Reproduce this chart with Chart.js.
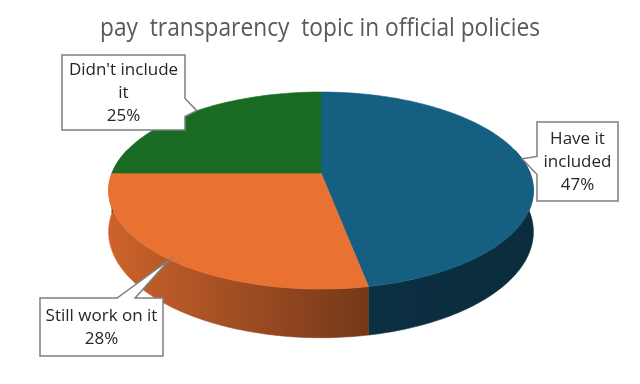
<!DOCTYPE html>
<html>
<head>
<meta charset="utf-8">
<script src="https://cdn.jsdelivr.net/npm/chart.js@4.4.1/dist/chart.umd.min.js"></script>
<style>
  html, body { margin: 0; padding: 0; background: #ffffff; }
  #wrap { width: 640px; height: 384px; }
</style>
</head>
<body>
<div id="wrap"><canvas id="pieCanvas" width="640" height="384"></canvas></div>
<script>
const categories = ['Have it included', 'Still work on it', "Didn't include it"];
const shares = [47, 28, 25];
const sliceColors = ['#156082', '#E97132', '#196B24'];

// tilted view of the pie (perspective: front edge nearer the viewer)
const view = { x: 321, y: 173, a: 209, b: 95.4, k: 0.178, depth: 40 };
// callout boxes [x, y, w, h]; tip = point inside the slice (frac of its sweep), base = where the pointer leaves the box
const callouts = [
    { box: [537, 122, 81, 79], frac: 0.48, r: 1.0, base: 0.55 },
    { box: [40, 298, 123, 58], frac: 0.49, r: 1.0, base: 0.7 },
    { box: [62, 55, 123, 75], frac: 0.53, r: 1.0, base: 0.7 }
];

function shade(hex, k) {
    const n = parseInt(hex.slice(1), 16);
    const r = Math.round(((n >> 16) & 255) * k);
    const g = Math.round(((n >> 8) & 255) * k);
    const b = Math.round((n & 255) * k);
    return `rgb(${r}, ${g}, ${b})`;
}

function project(t, r, drop) {
    const u = r * Math.cos(t);
    const v = r * Math.sin(t);
    const w = 1 - view.k * v;
    return [view.x + view.a * u / w, view.y + (view.b * v + (drop || 0)) / w];
}

function wrapText(ctx, text, maxWidth) {
    const words = text.split(' ');
    const lines = [];
    let line = '';
    words.forEach(w => {
        const test = line ? line + ' ' + w : w;
        if (ctx.measureText(test).width > maxWidth && line) {
            lines.push(line);
            line = w;
        } else {
            line = test;
        }
    });
    if (line) lines.push(line);
    return lines;
}

function drawCallout(ctx, c, tip, lines) {
    const [x, y, w, h] = c.box;
    const half = 9;
    let side;
    if (tip[1] > y && tip[1] < y + h) side = tip[0] < x ? 'left' : 'right';
    else side = tip[1] < y ? 'top' : 'bottom';

    const pts = [[x, y]];
    if (side === 'top') {
        const m = x + w * c.base;
        pts.push([m - half, y], tip, [m + half, y]);
    }
    pts.push([x + w, y]);
    if (side === 'right') {
        const m = y + h * c.base;
        pts.push([x + w, m - half], tip, [x + w, m + half]);
    }
    pts.push([x + w, y + h]);
    if (side === 'bottom') {
        const m = x + w * c.base;
        pts.push([m + half, y + h], tip, [m - half, y + h]);
    }
    pts.push([x, y + h]);
    if (side === 'left') {
        const m = y + h * c.base;
        pts.push([x, m + half], tip, [x, m - half]);
    }

    ctx.beginPath();
    pts.forEach((p, i) => i ? ctx.lineTo(p[0], p[1]) : ctx.moveTo(p[0], p[1]));
    ctx.closePath();
    ctx.fillStyle = '#ffffff';
    ctx.fill();
    ctx.lineWidth = 1.5;
    ctx.lineJoin = 'miter';
    ctx.strokeStyle = '#7f7f7f';
    ctx.stroke();

    ctx.fillStyle = '#262626';
    ctx.textAlign = 'center';
    ctx.textBaseline = 'middle';
    const lh = 23;
    const top = y + h / 2 - (lines.length - 1) * lh / 2 + 1;
    lines.forEach((l, i) => ctx.fillText(l, x + w / 2, top + i * lh));
}

const tiltedPie = {
    id: 'tiltedPie',
    beforeDatasetsDraw(chart) {
        const ctx = chart.ctx;
        const arcs = chart.getDatasetMeta(0).data;
        const left = view.x - view.a * 1.02, right = view.x + view.a * 1.02;

        // side wall: only the part towards the viewer shows
        arcs.forEach((arc, i) => {
            const s = Math.max(arc.startAngle, -0.25);
            const e = Math.min(arc.endAngle, Math.PI + 0.25);
            if (e <= s) return;
            const grad = ctx.createLinearGradient(left, 0, right, 0);
            grad.addColorStop(0, shade(sliceColors[i], 0.88));
            grad.addColorStop(0.6, shade(sliceColors[i], 0.5));
            grad.addColorStop(1, shade(sliceColors[i], 0.46));
            const steps = 90;
            ctx.beginPath();
            for (let k = 0; k <= steps; k++) {
                const p = project(s + (e - s) * k / steps, 1);
                k ? ctx.lineTo(p[0], p[1]) : ctx.moveTo(p[0], p[1]);
            }
            for (let k = steps; k >= 0; k--) {
                const p = project(s + (e - s) * k / steps, 1, view.depth);
                ctx.lineTo(p[0], p[1]);
            }
            ctx.closePath();
            ctx.fillStyle = grad;
            ctx.fill();
            ctx.lineWidth = 0.6;
            ctx.strokeStyle = grad;
            ctx.stroke();
        });

        // top face
        arcs.forEach((arc, i) => {
            const s = arc.startAngle, e = arc.endAngle;
            const steps = Math.max(8, Math.ceil((e - s) * 40));
            ctx.beginPath();
            ctx.moveTo(view.x, view.y);
            for (let k = 0; k <= steps; k++) {
                const p = project(s + (e - s) * k / steps, 1);
                ctx.lineTo(p[0], p[1]);
            }
            ctx.closePath();
            ctx.fillStyle = sliceColors[i];
            ctx.fill();
            ctx.lineWidth = 0.6;
            ctx.strokeStyle = sliceColors[i];
            ctx.stroke();
        });
        return false;
    },
    afterDraw(chart) {
        const ctx = chart.ctx;
        const arcs = chart.getDatasetMeta(0).data;
        const total = shares.reduce((a, b) => a + b, 0);
        ctx.save();
        ctx.font = '17px "Open Sans"';
        arcs.forEach((arc, i) => {
            const c = callouts[i];
            const t = arc.startAngle + (arc.endAngle - arc.startAngle) * c.frac;
            const tip = project(t, c.r);
            const pct = Math.round(shares[i] / total * 100) + '%';
            const lines = wrapText(ctx, categories[i], c.box[2] - 6).concat([pct]);
            drawCallout(ctx, c, tip, lines);
        });
        ctx.restore();
    }
};

new Chart(document.getElementById('pieCanvas'), {
    type: 'pie',
    data: {
        labels: categories,
        datasets: [{
            data: shares,
            backgroundColor: sliceColors,
            borderWidth: 0
        }]
    },
    options: {
        responsive: false,
        animation: false,
        layout: { padding: { top: 10, bottom: 20, left: 100, right: 100 } },
        plugins: {
            legend: { display: false },
            tooltip: { enabled: false },
            title: {
                display: true,
                text: 'pay  transparency  topic in official policies',
                color: '#595959',
                font: { family: '"Open Sans"', size: 25, weight: 'normal' },
                padding: { top: 4, bottom: 10 }
            }
        }
    },
    plugins: [tiltedPie]
});
</script>
</body>
</html>
